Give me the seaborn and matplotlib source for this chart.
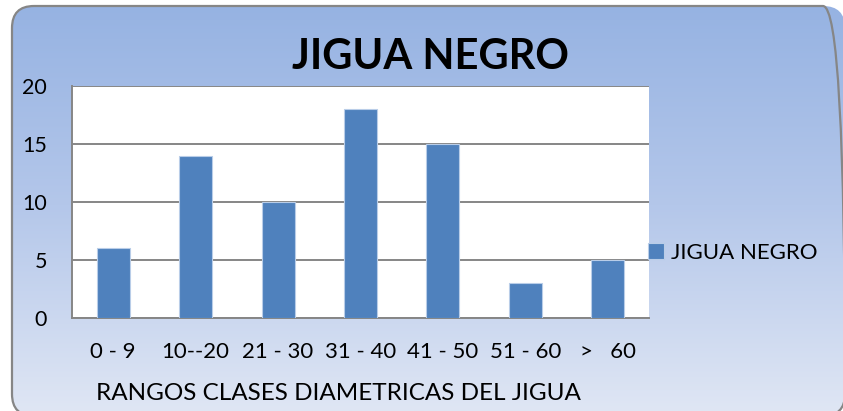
"""Histograma de clases diametricas - Jigua negro."""
import matplotlib.pyplot as plt
import numpy as np
import seaborn as sns
from matplotlib.colors import LinearSegmentedColormap
from matplotlib.patches import FancyBboxPatch

# datos
rangos = ["0 - 9", "10--20", "21 - 30", "31 - 40", "41 - 50", "51 - 60", ">   60"]
frecuencia = [6, 14, 10, 18, 15, 3, 5]
serie = "JIGUA NEGRO"
titulo = "JIGUA NEGRO"
eje_x = "RANGOS CLASES DIAMETRICAS DEL JIGUA"
yticks = [0, 5, 10, 15, 20]

sns.set_style("white")
plt.rcParams["font.family"] = ["Lato", "DejaVu Sans"]
plt.rcParams["text.color"] = "black"
plt.rcParams["xtick.labelcolor"] = "black"
plt.rcParams["ytick.labelcolor"] = "black"
plt.rcParams["savefig.bbox"] = None

W, H = 843, 411
fig = plt.figure(figsize=(W / 100, H / 100), dpi=100)

# marco redondeado en pixeles de la figura (origen abajo a la izquierda)
x0, x1 = 12, 845
y0, y1 = -5, H - 6
frame = FancyBboxPatch((x0, y0), x1 - x0, y1 - y0,
                       boxstyle="round,pad=0,rounding_size=22",
                       transform=None,
                       facecolor="none", edgecolor="#868686", linewidth=1.6,
                       zorder=-4)
frame.set_in_layout(False)
fig.add_artist(frame)

# fondo degradado recortado al marco
bg = fig.add_axes([0, 0, 1, 1], zorder=-5)
bg.axis("off")
cmap = LinearSegmentedColormap.from_list("fondo", ["#95B2E2", "#B4C7EA", "#DFE6F4"])
grad = np.linspace(0, 1, 256).reshape(-1, 1)
im = bg.imshow(grad, cmap=cmap, extent=(0, 1, 0, 1), aspect="auto",
               transform=bg.transAxes, origin="upper")
im.set_clip_path(frame)

# area de trazado
ax = fig.add_axes([72 / W, 1 - 318 / H, (649 - 72) / W, (318 - 86) / H])
ax.set_facecolor("white")
sns.barplot(x=rangos, y=frecuencia, color="#4F81BD", saturation=1, width=0.4,
            ax=ax, label=serie, edgecolor="#B9CDE8", linewidth=0.8, zorder=3)
ax.set_ylim(0, 20)
ax.set_xlim(-0.5, len(rangos) - 0.5)
ax.set_yticks(yticks)
ax.yaxis.grid(True, color="#868686", linewidth=1.4, zorder=0)
ax.set_axisbelow(True)
for s in ["top", "right"]:
    ax.spines[s].set_visible(False)
for s in ["left", "bottom"]:
    ax.spines[s].set_color("#868686")
    ax.spines[s].set_linewidth(1.4)

ax.tick_params(axis="y", direction="out", length=6, width=1.4, color="#868686",
               pad=12, labelsize=15.5)
ax.set_xticks(np.arange(-0.5, len(rangos)), minor=True)
ax.tick_params(axis="x", which="minor", direction="out", length=6, width=1.4,
               color="#868686")
ax.tick_params(axis="x", which="major", length=0, pad=17, labelsize=16)
ax.set_xlabel("")
ax.set_ylabel("")

fig.text(338 / W, 1 - 393 / H, eje_x, ha="center", va="center", fontsize=17.5)
fig.text(430 / W, 1 - 57 / H, titulo, ha="center", va="center",
         fontsize=30, fontweight="bold")

ax.legend(loc="center left", bbox_to_anchor=(648 / W, 1 - 253 / H),
          bbox_transform=fig.transFigure, frameon=False, fontsize=16,
          handlelength=0.7, handleheight=0.7, handletextpad=0.35,
          borderpad=0, borderaxespad=0)

fig.savefig("out.png", dpi=100, bbox_inches=None)
